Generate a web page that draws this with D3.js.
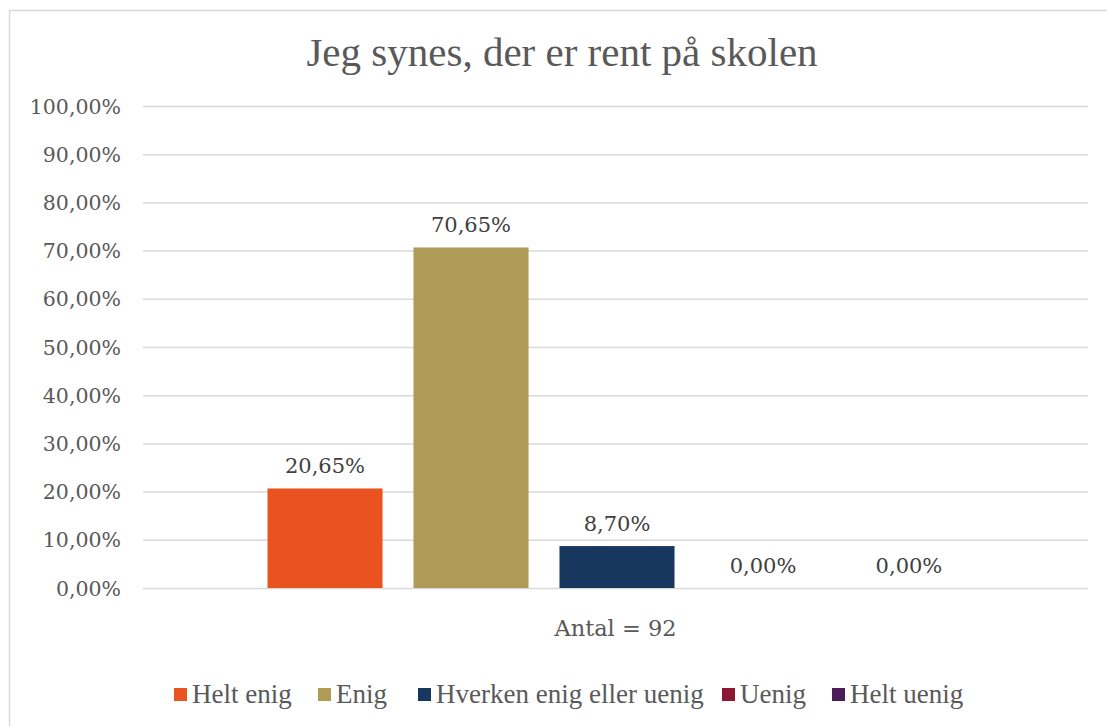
<!DOCTYPE html>
<html>
<head>
<meta charset="utf-8">
<script src="https://cdn.jsdelivr.net/npm/d3@7"></script>
<style>
  html, body { margin: 0; padding: 0; background: #ffffff; }
  svg { display: block; }
</style>
</head>
<body>
<div id="chart"></div>
<script>
// Survey answers for a single question, one bar per answer option
const title = "Jeg synes, der er rent på skolen";
const category = "Antal = 92";
const seriesNames = ["Helt enig", "Enig", "Hverken enig eller uenig", "Uenig", "Helt uenig"];
const seriesValues = [20.65, 70.65, 8.70, 0.00, 0.00];
const seriesColors = ["#E9531F", "#B09A58", "#17375E", "#8C1730", "#4B1E5A"];
const yTicks = [0, 10, 20, 30, 40, 50, 60, 70, 80, 90, 100];

const W = 1107, H = 726;
const serif = "'DejaVu Serif', 'Liberation Serif', serif";
const titleFont = "'Liberation Serif', 'DejaVu Serif', serif";

const svg = d3.select("#chart").append("svg")
  .attr("width", W).attr("height", H);

// chart frame
svg.append("rect")
  .attr("x", 9.5).attr("y", 10.5)
  .attr("width", W + 20).attr("height", H + 20)
  .attr("fill", "#ffffff")
  .attr("stroke", "#d9d9d9").attr("stroke-width", 1.5);

const plot = { left: 143, right: 1088, top: 106, bottom: 588 };

const y = d3.scaleLinear().domain([0, 100]).range([plot.bottom, plot.top]);
const x0 = d3.scaleBand().domain([category]).range([plot.left, plot.right]).paddingInner(0).paddingOuter(0);
const x1 = d3.scaleBand().domain(seriesNames)
  .range([x0(category) + 124.5, x0(category) + x0.bandwidth() - 121.5])
  .paddingInner(0.212).paddingOuter(0);

const fmt = v => d3.format(".2f")(v).replace(".", ",") + "%";

// title
svg.append("text")
  .attr("x", 562).attr("y", 66)
  .attr("text-anchor", "middle")
  .attr("font-family", titleFont)
  .attr("font-size", 41)
  .attr("fill", "#595959")
  .text(title);

// gridlines + y labels via axis
const yAxis = d3.axisLeft(y).tickValues(yTicks).tickSize(-(plot.right - plot.left)).tickPadding(22).tickFormat(fmt);
const gy = svg.append("g").attr("transform", `translate(${plot.left},0)`).call(yAxis);
gy.select(".domain").remove();
gy.selectAll(".tick line").attr("stroke", "#d9d9d9").attr("stroke-width", 1.5);
gy.selectAll(".tick text")
  .attr("font-family", serif).attr("font-size", 20.5)
  .attr("fill", "#595959").attr("dy", "0.35em");

// bars
const g = svg.append("g").attr("transform", `translate(${x0(category)},0)`);
g.selectAll("rect.bar")
  .data(seriesNames.map((n, i) => ({ name: n, value: seriesValues[i], color: seriesColors[i] })))
  .join("rect")
  .attr("class", "bar")
  .attr("x", d => x1(d.name) - x0(category))
  .attr("y", d => y(d.value))
  .attr("width", x1.bandwidth())
  .attr("height", d => y(0) - y(d.value))
  .attr("fill", d => d.color);

// value labels
g.selectAll("text.val")
  .data(seriesNames.map((n, i) => ({ name: n, value: seriesValues[i] })))
  .join("text")
  .attr("class", "val")
  .attr("x", d => x1(d.name) - x0(category) + x1.bandwidth() / 2)
  .attr("y", d => y(d.value) - 15)
  .attr("text-anchor", "middle")
  .attr("font-family", serif).attr("font-size", 21)
  .attr("fill", "#404040")
  .text(d => fmt(d.value));

// category label
svg.append("text")
  .attr("x", x0(category) + x0.bandwidth() / 2).attr("y", 636)
  .attr("text-anchor", "middle")
  .attr("font-family", serif).attr("font-size", 22.5)
  .attr("fill", "#595959")
  .text(category);

// legend
const legendX = [174, 318, 418, 722, 832];
const lg = svg.append("g");
seriesNames.forEach((n, i) => {
  lg.append("rect").attr("x", legendX[i]).attr("y", 688).attr("width", 13).attr("height", 13)
    .attr("fill", seriesColors[i]);
  lg.append("text").attr("x", legendX[i] + 18).attr("y", 703)
    .attr("font-family", titleFont).attr("font-size", 27)
    .attr("fill", "#595959").text(n);
});
</script>
</body>
</html>
